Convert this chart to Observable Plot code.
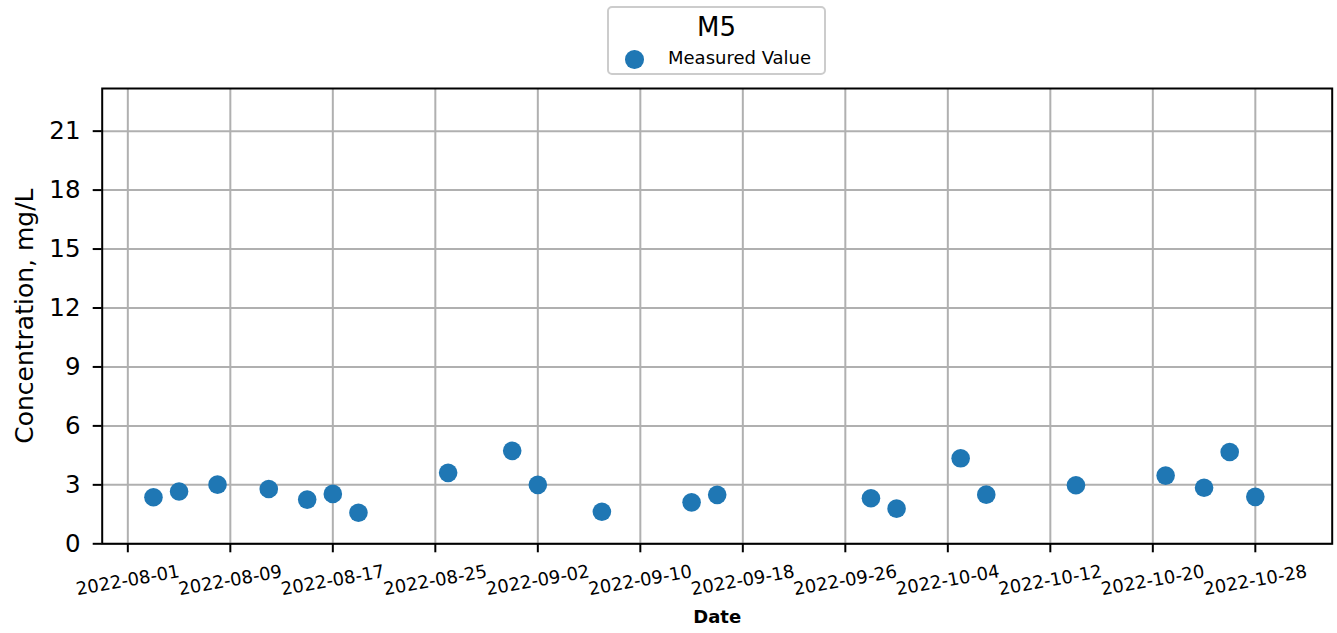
<!DOCTYPE html>
<html>
<head>
<meta charset="utf-8">
<script src="https://cdn.jsdelivr.net/npm/d3@7"></script>
<script src="https://cdn.jsdelivr.net/npm/@observablehq/plot@0.6"></script>
<style>
  html, body { margin: 0; padding: 0; background: #fff; }
  body { font-family: "DejaVu Sans", sans-serif; width: 1337px; height: 633px; overflow: hidden; position: relative; }
  #header { position: relative; height: 80px; }
  #legend { position: absolute; left: 607px; top: 6px; width: 219px; height: 69px; box-sizing: border-box;
            border: 2px solid #cccccc; border-radius: 5px; background: #fff; }
  #legend .title { position: absolute; left: 0; right: 0; top: 4px; text-align: center; font-size: 26px; line-height: 30px; color: #000; }
  #legend .swatch { position: absolute; left: 16px; top: 42px; width: 18.6px; height: 18.6px; border-radius: 50%; background: #1f77b4; }
  #legend .lab { position: absolute; left: 59px; top: 39px; font-size: 18px; line-height: 22px; color: #000; }
  #chart svg { display: block; font-family: "DejaVu Sans", sans-serif; }
</style>
</head>
<body>
<div id="header">
  <div id="legend">
    <div class="title">M5</div>
    <div class="swatch"></div>
    <div class="lab">Measured Value</div>
  </div>
</div>
<div id="chart"></div>
<script>
const dates = ["2022-08-03","2022-08-05","2022-08-08","2022-08-12","2022-08-15","2022-08-17","2022-08-19",
               "2022-08-26","2022-08-31","2022-09-02","2022-09-07","2022-09-14","2022-09-16","2022-09-28",
               "2022-09-30","2022-10-05","2022-10-07","2022-10-14","2022-10-21","2022-10-24","2022-10-26","2022-10-28"];
const values = [2.37, 2.66, 3.01, 2.79, 2.25, 2.54, 1.58,
                3.61, 4.73, 3.00, 1.63, 2.11, 2.49, 2.32,
                1.79, 4.35, 2.50, 2.98, 3.47, 2.85, 4.67, 2.39];
const xTickLabels = ["2022-08-01","2022-08-09","2022-08-17","2022-08-25","2022-09-02","2022-09-10",
                     "2022-09-18","2022-09-26","2022-10-04","2022-10-12","2022-10-20","2022-10-28"];
const yTicks = [0, 3, 6, 9, 12, 15, 18, 21];
const seriesName = "Measured Value";
const title = "M5";
const xLabel = "Date";
const yLabel = "Concentration, mg/L";

const data = dates.map((d, i) => ({date: new Date(d), value: values[i]}));
const xTicks = xTickLabels.map(d => new Date(d));
const fmt = d3.utcFormat("%Y-%m-%d");

const chart = Plot.plot({
  width: 1337,
  height: 553,
  marginTop: 8,
  marginBottom: 89.7,
  marginLeft: 101.7,
  marginRight: 5.3,
  style: {fontFamily: "DejaVu Sans, sans-serif", color: "#000", background: "#fff"},
  x: {type: "utc", domain: [new Date("2022-07-30"), new Date("2022-11-03")]},
  y: {domain: [0, 23.17]},
  marks: [
    Plot.gridX(xTicks, {stroke: "#b0b0b0", strokeOpacity: 1, strokeWidth: 2}),
    Plot.gridY(yTicks, {stroke: "#b0b0b0", strokeOpacity: 1, strokeWidth: 2}),
    Plot.dot(data, {x: "date", y: "value", r: 9.3, fill: "#1f77b4", stroke: "none"}),
    Plot.frame({stroke: "#000", strokeWidth: 2}),
    Plot.axisX({ticks: xTicks, tickSize: 9, strokeWidth: 2, tickFormat: () => "", label: null}),
    Plot.text(xTicks, {x: d => d, frameAnchor: "bottom", dy: 36.7, text: d => fmt(d), rotate: -10,
                       textAnchor: "middle", lineAnchor: "middle", fontSize: 18, fill: "#000"}),
    Plot.axisY({ticks: yTicks, tickSize: 9, strokeWidth: 2, tickFormat: () => "", label: null}),
    Plot.text(yTicks, {y: d => d, frameAnchor: "left", dx: -21.7, text: d => String(d),
                       textAnchor: "end", lineAnchor: "middle", fontSize: 24.5, fill: "#000"}),
    Plot.text([xLabel], {frameAnchor: "bottom", dy: 73.7, textAnchor: "middle", lineAnchor: "middle", fontSize: 18, fontWeight: "bold", fill: "#000"}),
    Plot.text([yLabel], {frameAnchor: "left", dx: -77.7, rotate: -90, textAnchor: "middle", lineAnchor: "middle", fontSize: 25, fill: "#000"})
  ]
});
document.getElementById("chart").appendChild(chart);
</script>
</body>
</html>
